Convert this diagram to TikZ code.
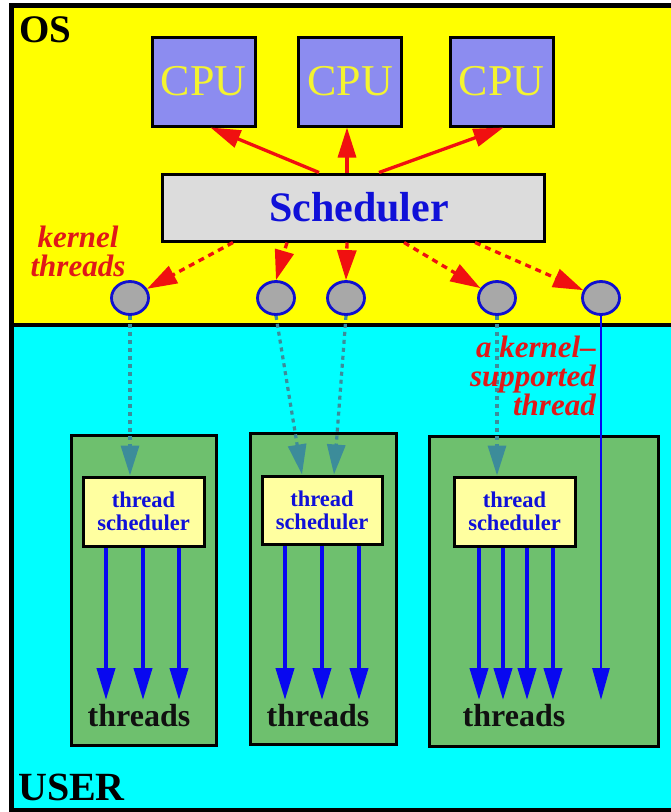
\documentclass[tikz,border=0pt]{standalone}
\usepackage{fontspec}
\setmainfont{Liberation Serif}
\usetikzlibrary{arrows.meta,shapes.geometric}

\definecolor{osyellow}{HTML}{FFFF00}
\definecolor{usercyan}{HTML}{00FFFF}
\definecolor{cpublue}{HTML}{8C8CF0}
\definecolor{cputext}{HTML}{F4F430}
\definecolor{schedgrey}{HTML}{DCDCDC}
\definecolor{textblue}{HTML}{1010D8}
\definecolor{kgrey}{HTML}{A8A8A8}
\definecolor{kblue}{HTML}{1010D0}
\definecolor{procgreen}{HTML}{6EC06E}
\definecolor{tsyellow}{HTML}{FFFFA0}
\definecolor{teal}{HTML}{3C8C9A}
\definecolor{arrred}{HTML}{F01010}
\definecolor{labred}{HTML}{E01818}
\definecolor{thrblue}{HTML}{0808F0}
\definecolor{inkblack}{HTML}{101010}

\tikzset{
  cpubox/.style={draw, line width=3pt, fill=cpublue, minimum width=103pt,
    minimum height=89pt, inner sep=0pt, text=cputext,
    font=\fontsize{44}{44}\selectfont},
  schedbox/.style={draw, line width=3pt, fill=schedgrey, minimum width=382pt,
    minimum height=67pt, inner sep=0pt, text=textblue,
    font=\fontsize{42}{42}\selectfont\bfseries},
  kthread/.style={ellipse, draw=kblue, line width=2.8pt, fill=kgrey,
    minimum width=37pt, minimum height=33pt, inner sep=0pt},
  procbox/.style={draw, line width=3pt, fill=procgreen, inner sep=0pt},
  tsbox/.style={draw, line width=3pt, fill=tsyellow, minimum width=121pt,
    minimum height=69pt, inner sep=0pt, text=textblue, align=center,
    font=\fontsize{22.5}{23}\selectfont\bfseries},
  thrlabel/.style={anchor=base, inner sep=0pt, text=inkblack,
    font=\fontsize{32}{32}\selectfont\bfseries},
  redlabel/.style={inner sep=0pt, text=labred,
    font=\fontsize{31}{29}\selectfont\bfseries\itshape},
  bigtitle/.style={anchor=base west, inner sep=0pt,
    font=\fontsize{39}{39}\selectfont\bfseries},
  cpuarrow/.style={draw=arrred, line width=3.3pt,
    -{Triangle[length=30pt,width=18pt]}},
  dispatch/.style={draw=arrred, line width=3.3pt, dash pattern=on 6pt off 5pt,
    -{Triangle[length=30pt,width=19pt]}},
  mapline/.style={draw=teal, line width=3.2pt, dash pattern=on 4pt off 4pt,
    -{Triangle[length=30pt,width=18pt]}},
  thrarrow/.style={draw=thrblue, line width=4pt,
    -{Triangle[length=32pt,width=18pt]}},
  kline/.style={draw=thrblue, line width=2.8pt,
    -{Triangle[length=32pt,width=17pt]}},
}

\begin{document}
\begin{tikzpicture}[x=1pt,y=-1pt]
\useasboundingbox (0,0) rectangle (671,812);
\clip (0,0) rectangle (671,812);

% kernel and user areas
\fill[white] (0,0) rectangle (671,812);
\fill[osyellow] (11,5) rectangle (690,325);
\fill[usercyan] (11,325) rectangle (690,810);
\draw[line width=3.5pt] (11,325) -- (690,325);
\draw[line width=5pt] (11,5) rectangle (690,810);

\node[bigtitle] (os) at (19,42) {OS};
\node[bigtitle, font=\fontsize{40}{40}\selectfont\bfseries] (user) at (18,800) {USER};

% processors and the kernel scheduler
\node[cpubox] (cpu1) at (203.5,81.5) {CPU};
\node[cpubox] (cpu2) at (350,81.5) {CPU};
\node[cpubox] (cpu3) at (501.5,81.5) {CPU};
\node[schedbox] (sched) at (353,207.5) {\hspace*{12pt}Scheduler};

\draw[cpuarrow] ([xshift=-34pt]sched.north) -- ([xshift=7pt]cpu1.south);
\draw[cpuarrow] ([xshift=-6pt]sched.north) -- ([xshift=-3pt]cpu2.south);
\draw[cpuarrow] ([xshift=26pt]sched.north) -- ([xshift=2pt]cpu3.south);

% kernel threads
\node[kthread] (k1) at (130,298) {};
\node[kthread] (k2) at (276,298) {};
\node[kthread] (k3) at (346,298) {};
\node[kthread] (k4) at (497,298) {};
\node[kthread] (k5) at (601,298) {};

\draw[dispatch] ([xshift=-120pt]sched.south) -- (k1);
\draw[dispatch] ([xshift=-66pt]sched.south) -- (k2.north);
\draw[dispatch] ([xshift=-6pt]sched.south) -- (k3.north);
\draw[dispatch] ([xshift=51pt]sched.south) -- (k4);
\draw[dispatch] ([xshift=122pt]sched.south) -- (k5);

\node[redlabel, align=center] (klab) at (78,251) {kernel\\threads};

% user processes
\node[procbox, minimum width=145pt, minimum height=310pt] (p1) at (143.5,590) {};
\node[procbox, minimum width=146pt, minimum height=311pt] (p2) at (323,588.5) {};
\node[procbox, minimum width=229pt, minimum height=310pt] (p3) at (543.5,591) {};

\node[tsbox] (ts1) at (143.5,511.5) {thread\\scheduler};
\node[tsbox, minimum width=120pt, minimum height=68pt] (ts2) at (322,510) {thread\\scheduler};
\node[tsbox] (ts3) at (514.5,511.5) {thread\\scheduler};

\draw[mapline] (k1.south) -- (k1.south |- ts1.north);
\draw[mapline] (k2.south) -- ([xshift=-20pt]ts2.north);
\draw[mapline] (k3.south) -- ([xshift=12pt]ts2.north);
\draw[mapline] (k4.south) -- (k4.south |- ts3.north);

\node[redlabel, align=right, anchor=north east] (kslab) at (596,336)
  {a kernel–\\supported\\thread};

% user-level threads
\coordinate (tips) at (0,700);
\foreach \x in {106,143,179} \draw[thrarrow] (\x,0 |- ts1.south) -- (\x,0 |- tips);
\foreach \x in {285,322,359} \draw[thrarrow] (\x,0 |- ts2.south) -- (\x,0 |- tips);
\foreach \x in {479,503,527,553} \draw[thrarrow] (\x,0 |- ts3.south) -- (\x,0 |- tips);
\draw[kline] (k5.south) -- (k5.south |- tips);

\node[thrlabel] (th1) at (139,726) {threads};
\node[thrlabel] (th2) at (318,726) {threads};
\node[thrlabel] (th3) at (514,726) {threads};
\end{tikzpicture}
\end{document}
